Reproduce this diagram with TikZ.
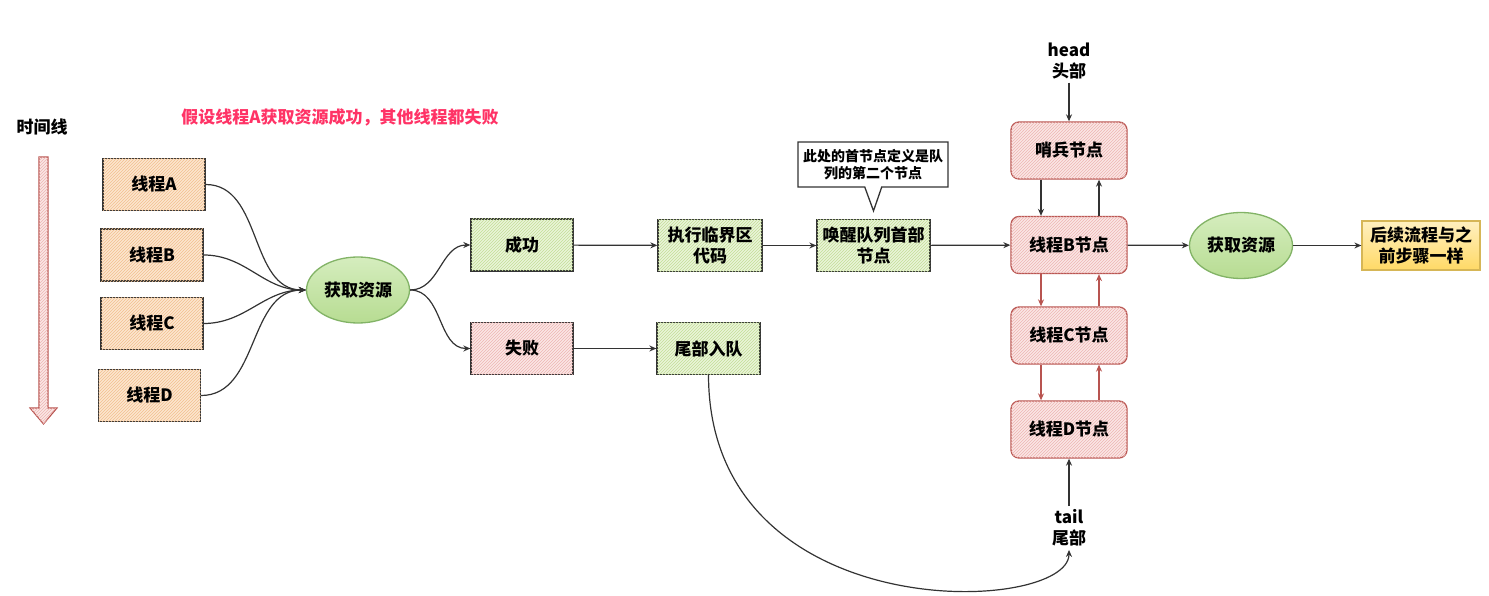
\documentclass[tikz,border=0pt]{standalone}
\usepackage{fontspec}
\setmainfont{Noto Sans CJK SC}
\usetikzlibrary{arrows.meta,shapes.geometric,shapes.callouts,patterns,positioning}

\definecolor{lineC}{HTML}{333333}
\definecolor{orgF}{HTML}{FCE6CF}
\definecolor{orgH}{HTML}{F2C08F}
\definecolor{grnF}{HTML}{EAF4D9}
\definecolor{grnH}{HTML}{C3DE97}
\definecolor{pnkF}{HTML}{FBE7E6}
\definecolor{pnkH}{HTML}{EDB5B2}
\definecolor{redL}{HTML}{B85450}
\definecolor{ovalT}{HTML}{D5EDBE}
\definecolor{ovalB}{HTML}{B7DC92}
\definecolor{ovalL}{HTML}{82B366}
\definecolor{ylwT}{HTML}{FFF0C0}
\definecolor{ylwB}{HTML}{FFD966}
\definecolor{ylwL}{HTML}{D6B656}
\definecolor{titleR}{HTML}{FF3366}

\tikzset{
  txt/.style={font=\bfseries\fontsize{17}{21}\selectfont, align=center},
  box/.style={txt, draw=lineC, line width=1.3pt, minimum width=102pt, minimum height=52pt, inner sep=2pt},
  thread/.style={box, fill=orgF, postaction={pattern=north east lines, pattern color=orgH}},
  okbox/.style={box, fill=grnF, postaction={pattern=north east lines, pattern color=grnH}},
  failbox/.style={box, fill=pnkF, postaction={pattern=north east lines, pattern color=pnkH}},
  qnode/.style={txt, draw=redL, line width=1.3pt, rounded corners=8pt, minimum width=116pt, minimum height=57pt,
    fill=pnkF, postaction={pattern=north east lines, pattern color=pnkH}},
  oval/.style={txt, ellipse, draw=ovalL, line width=1.3pt, minimum width=103pt, minimum height=66pt,
    inner sep=0pt, top color=ovalT, bottom color=ovalB},
  endbox/.style={txt, draw=ylwL, line width=1.3pt, minimum width=118pt, minimum height=49pt, inner sep=2pt,
    top color=ylwT, bottom color=ylwB},
  arr/.style={-{Stealth[length=7pt,width=6pt]}, line width=1.2pt, draw=lineC},
  rarr/.style={arr, draw=redL},
}

\begin{document}
\begin{tikzpicture}[x=1pt, y=-1pt]
\useasboundingbox (0,0) rectangle (1489,596);

%% time line
\node[txt] (tline) at (42,127) {时间线};
\draw[draw=redL, line width=1.1pt, fill=pnkF, postaction={pattern=north east lines, pattern color=pnkH}]
  (39,157) -- (48,157) -- (48,408) -- (57,408) -- (43.5,424) -- (30,408) -- (39,408) -- cycle;

\node[txt, text=titleR] (title) at (340,117) {假设线程A获取资源成功，其他线程都失败};

%% threads
\node[thread] (thA) at (154,184.5) {线程A};
\node[thread] (thB) at (152,255) {线程B};
\node[thread] (thC) at (152,323.5) {线程C};
\node[thread] (thD) at (149.5,395.5) {线程D};

\node[oval] (res1) at (358,290) {获取资源};

\foreach \t in {thA,thB,thC,thD}
  \draw[arr] (\t.east) to[out=0,in=180] (res1.west);

%% success / fail
\node[okbox] (ok) at (522,245) {成功};
\node[failbox] (fail) at (522,348.5) {失败};
\draw[arr] (res1.east) to[out=0,in=180] (ok.west);
\draw[arr] (res1.east) to[out=0,in=180] (fail.west);

\node[okbox, minimum width=104pt] (crit) at (710,245.5) {执行临界区\\代码};
\node[okbox, minimum width=103pt] (enq) at (708.5,348.5) {尾部入队};
\node[okbox, minimum width=113pt] (wake) at (873.5,245.5) {唤醒队列首部\\节点};

\draw[arr] (ok) -- (crit);
\draw[arr] (crit) -- (wake);
\draw[arr] (fail) -- (enq);

%% note
\coordinate (tip) at ([yshift=8pt]wake.north);
\node[txt, font=\bfseries\fontsize{14}{17}\selectfont, draw=lineC, line width=1.3pt, fill=white,
  rectangle callout, callout absolute pointer={(tip)}, callout pointer width=17pt,
  minimum width=150pt, minimum height=45pt, inner sep=2pt] (note) at (873,164.5)
  {此处的首节点定义是队\\列的第二个节点};

%% queue
\node[txt] (head) at (1069,61) {head\\头部};
\node[qnode] (sen) at (1069,150.5) {哨兵节点};
\node[qnode] (qB) at (1069,245) {线程B节点};
\node[qnode] (qC) at (1069,335.5) {线程C节点};
\node[qnode] (qD) at (1069,429.5) {线程D节点};
\node[txt] (tail) at (1069,528) {tail\\尾部};

\draw[arr] (head) -- (sen);
\draw[arr] ([xshift=-28pt]sen.south) -- ([xshift=-28pt]qB.north);
\draw[arr] ([xshift=30pt]qB.north) -- ([xshift=30pt]sen.south);
\draw[rarr] ([xshift=-28pt]qB.south) -- ([xshift=-28pt]qC.north);
\draw[rarr] ([xshift=30pt]qC.north) -- ([xshift=30pt]qB.south);
\draw[rarr] ([xshift=-28pt]qC.south) -- ([xshift=-28pt]qD.north);
\draw[rarr] ([xshift=30pt]qD.north) -- ([xshift=30pt]qC.south);
\draw[arr] (tail) -- (qD);

\draw[arr] (wake) -- (qB);
\draw[arr] (enq.south) .. controls (709,630) and (1069,615) .. (tail.south);

%% get resource again
\node[oval] (res2) at (1241,245.5) {获取资源};
\node[endbox] (next) at (1421,245.5) {后续流程与之\\前步骤一样};
\draw[arr] (qB) -- (res2);
\draw[arr] (res2) -- (next);

\end{tikzpicture}
\end{document}
